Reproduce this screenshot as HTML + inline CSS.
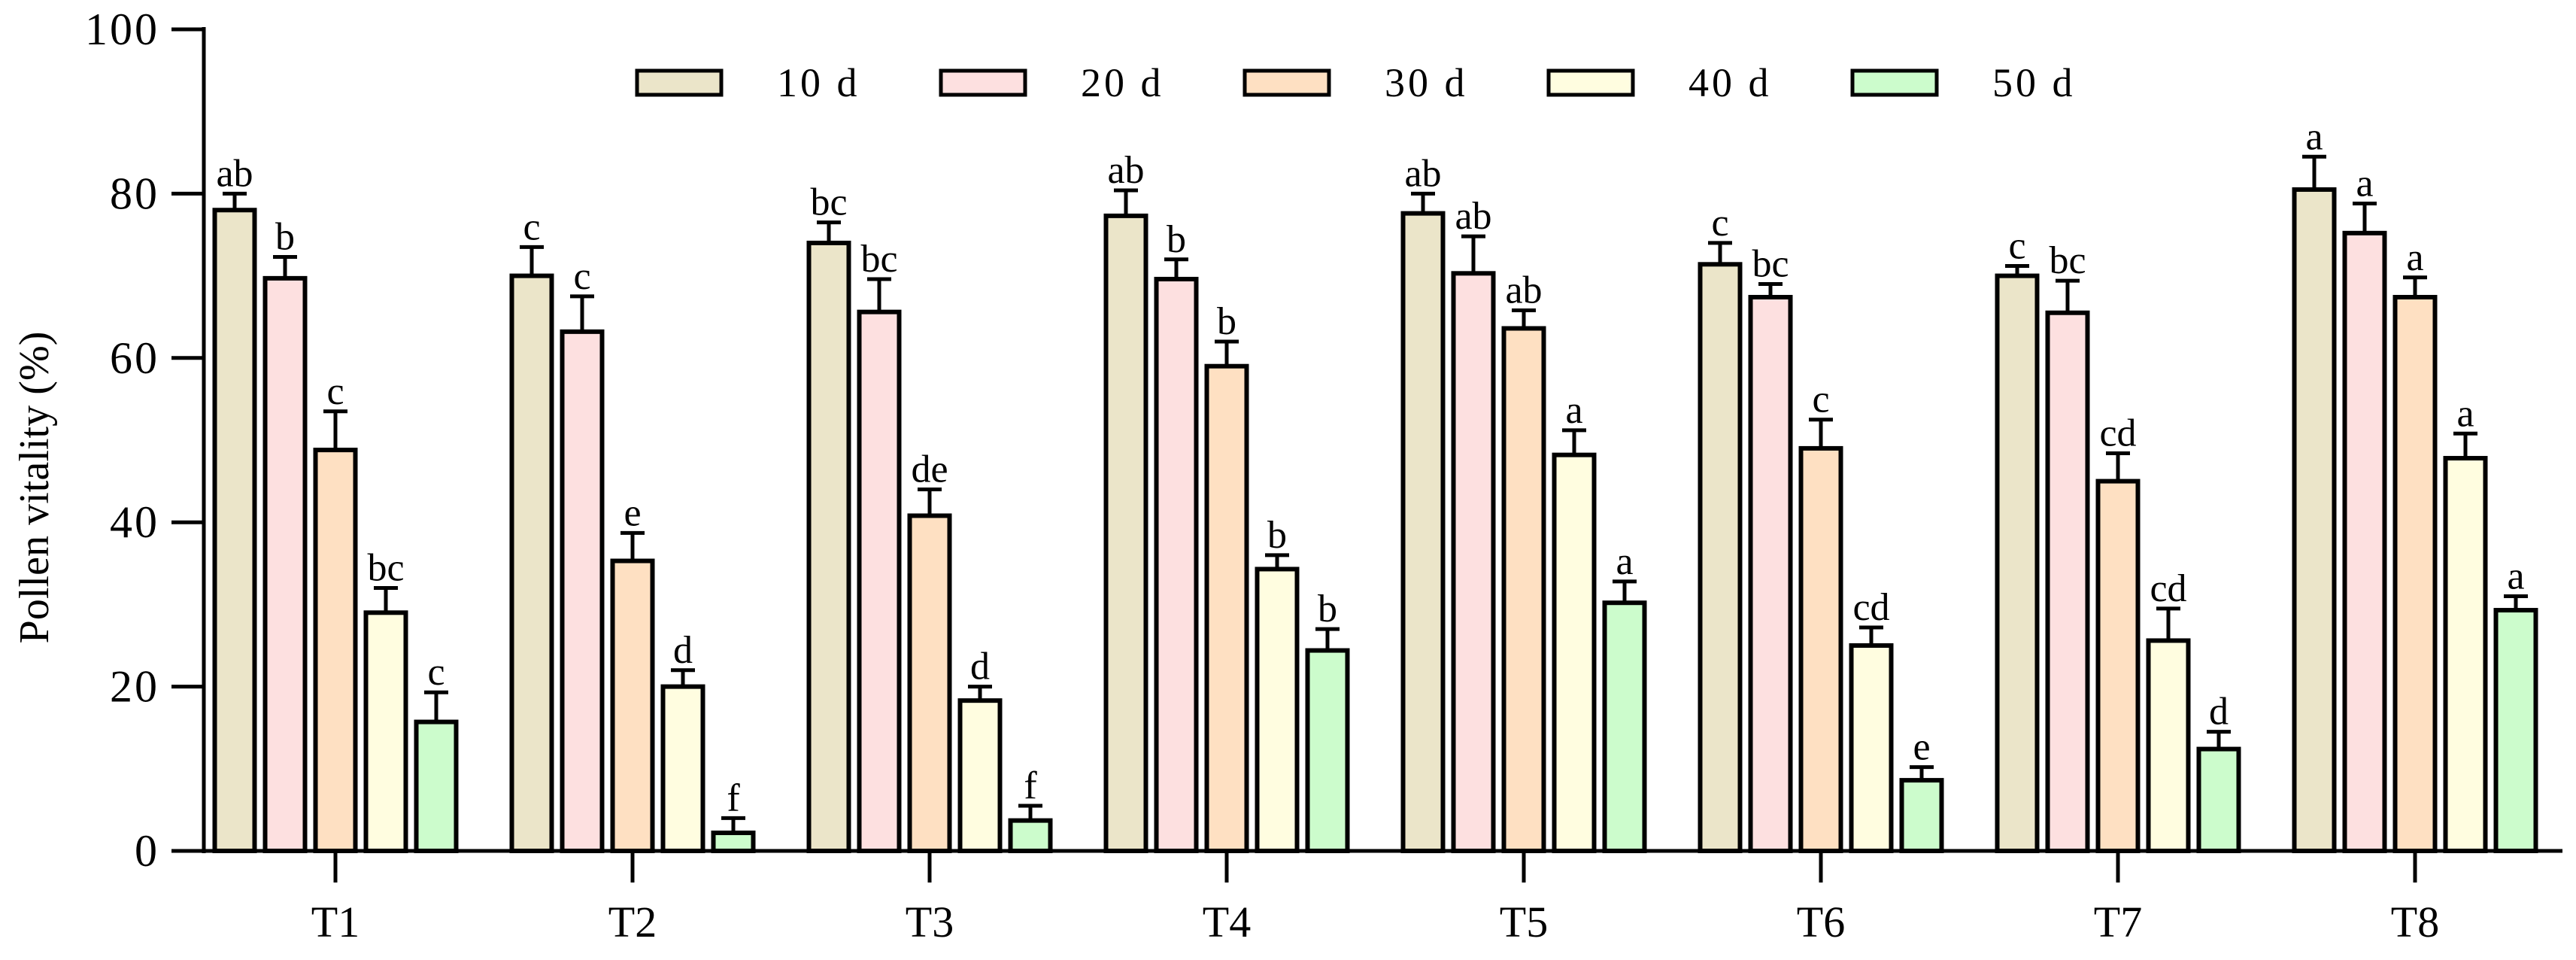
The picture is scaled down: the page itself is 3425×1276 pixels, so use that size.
<!DOCTYPE html>
<html><head><meta charset="utf-8"><style>
html,body{margin:0;padding:0;background:#fff;}
svg{display:block;font-family:"Liberation Serif",serif;}
</style></head><body>
<svg id="chart" width="3425" height="1276" viewBox="0 0 3425 1276" xmlns="http://www.w3.org/2000/svg">
<text x="0" y="0" transform="translate(64,648) rotate(-90)" text-anchor="middle" font-size="56" textLength="415" lengthAdjust="spacingAndGlyphs">Pollen vitality (%)</text>
</svg>
<script>
const categories = ["T1","T2","T3","T4","T5","T6","T7","T8"];
const seriesNames = ["10 d","20 d","30 d","40 d","50 d"];
const s10 = [78.0,70.0,74.0,77.3,77.6,71.4,70.0,80.5];
const s20 = [69.7,63.2,65.6,69.6,70.3,67.4,65.5,75.2];
const s30 = [48.8,35.3,40.8,59.0,63.6,49.0,45.0,67.4];
const s40 = [29.0,20.0,18.3,34.3,48.2,25.0,25.6,47.8];
const s50 = [15.7,2.2,3.7,24.4,30.2,8.6,12.4,29.3];
const e10 = [2.0,3.5,2.5,3.1,2.4,2.6,1.2,4.0];
const e20 = [2.6,4.3,4.0,2.4,4.5,1.6,3.9,3.6];
const e30 = [4.7,3.4,3.2,3.0,2.2,3.5,3.4,2.4];
const e40 = [3.0,2.0,1.7,1.7,3.0,2.2,3.9,3.0];
const e50 = [3.6,1.8,1.8,2.6,2.6,1.6,2.1,1.7];
const l10 = ["ab","c","bc","ab","ab","c","c","a"];
const l20 = ["b","c","bc","b","ab","bc","bc","a"];
const l30 = ["c","e","de","b","ab","c","cd","a"];
const l40 = ["bc","d","d","b","a","cd","cd","a"];
const l50 = ["c","f","f","b","a","e","d","a"];
const yTicks = [0,20,40,60,80,100];

const series = [s10,s20,s30,s40,s50];
const errs = [e10,e20,e30,e40,e50];
const lets = [l10,l20,l30,l40,l50];
const colors = ["#ebe5c9","#fde0e0","#fee0c2","#fffde0","#ccfccc"];

const svg = document.getElementById('chart');
const NS = "http://www.w3.org/2000/svg";
const y0 = 1131, y100 = 39, xAxisL = 271, xAxisR = 3407;
const yS = v => y0 - (y0 - y100) * v / 100;
const cx0 = 446, groupStep = 395, barPitch = 67, barW = 53;
const xC = i => cx0 + i * groupStep;
function mk(tag, attrs){const e=document.createElementNS(NS,tag);for(const k in attrs)e.setAttribute(k,attrs[k]);svg.appendChild(e);return e;}

for (let s = 0; s < series.length; s++) {
  for (let i = 0; i < categories.length; i++) {
    const v = series[s][i];
    const bx = xC(i) + (s - 2) * barPitch - barW / 2;
    const top = yS(v);
    const eTop = yS(v + errs[s][i]);
    const bc = bx + barW / 2;
    const el = mk('line',{x1:bc,x2:bc,y1:top,y2:eTop,stroke:'#000','stroke-width':5});
    
    
    const cap = mk('line',{x1:bc-16,x2:bc+16,y1:eTop,y2:eTop,stroke:'#000','stroke-width':5});
    
    
    const r = mk('rect',{x:bx,y:top,width:barW,height:y0-top,fill:colors[s],stroke:'#000','stroke-width':6});
    
    
    const t = mk('text',{x:bc,y:eTop-10,'text-anchor':'middle','font-size':52});
    t.textContent = lets[s][i];
    
    
  }
}

const ya = mk('line',{x1:xAxisL,x2:xAxisL,y1:y100-3,y2:y0+3,stroke:'#000','stroke-width':5});


const xa = mk('line',{x1:xAxisL,x2:xAxisR,y1:y0,y2:y0,stroke:'#000','stroke-width':5});


for (const v of yTicks) {
  const y = yS(v);
  const tk = mk('line',{x1:228,x2:xAxisL,y1:y,y2:y,stroke:'#000','stroke-width':5});
  
  
  const tl = mk('text',{x:212,y:y+20,'text-anchor':'end','font-size':60,'letter-spacing':3});
  tl.textContent = v;
  
  
}
for (let i = 0; i < categories.length; i++) {
  const x = xC(i);
  const tk = mk('line',{x1:x,x2:x,y1:y0,y2:y0+42,stroke:'#000','stroke-width':5});
  
  
  const tl = mk('text',{x:x,y:1245,'text-anchor':'middle','font-size':58});
  tl.textContent = categories[i];
  
  
}
for (let s = 0; s < seriesNames.length; s++) {
  const lx = 847 + s * 404;
  const b = mk('rect',{x:lx,y:94,width:112,height:32,fill:colors[s],stroke:'#000','stroke-width':5});
  
  
  const t = mk('text',{x:lx+186,y:128,'font-size':54,'letter-spacing':4});
  t.textContent = seriesNames[s];
  
  
}
</script>
</body></html>
